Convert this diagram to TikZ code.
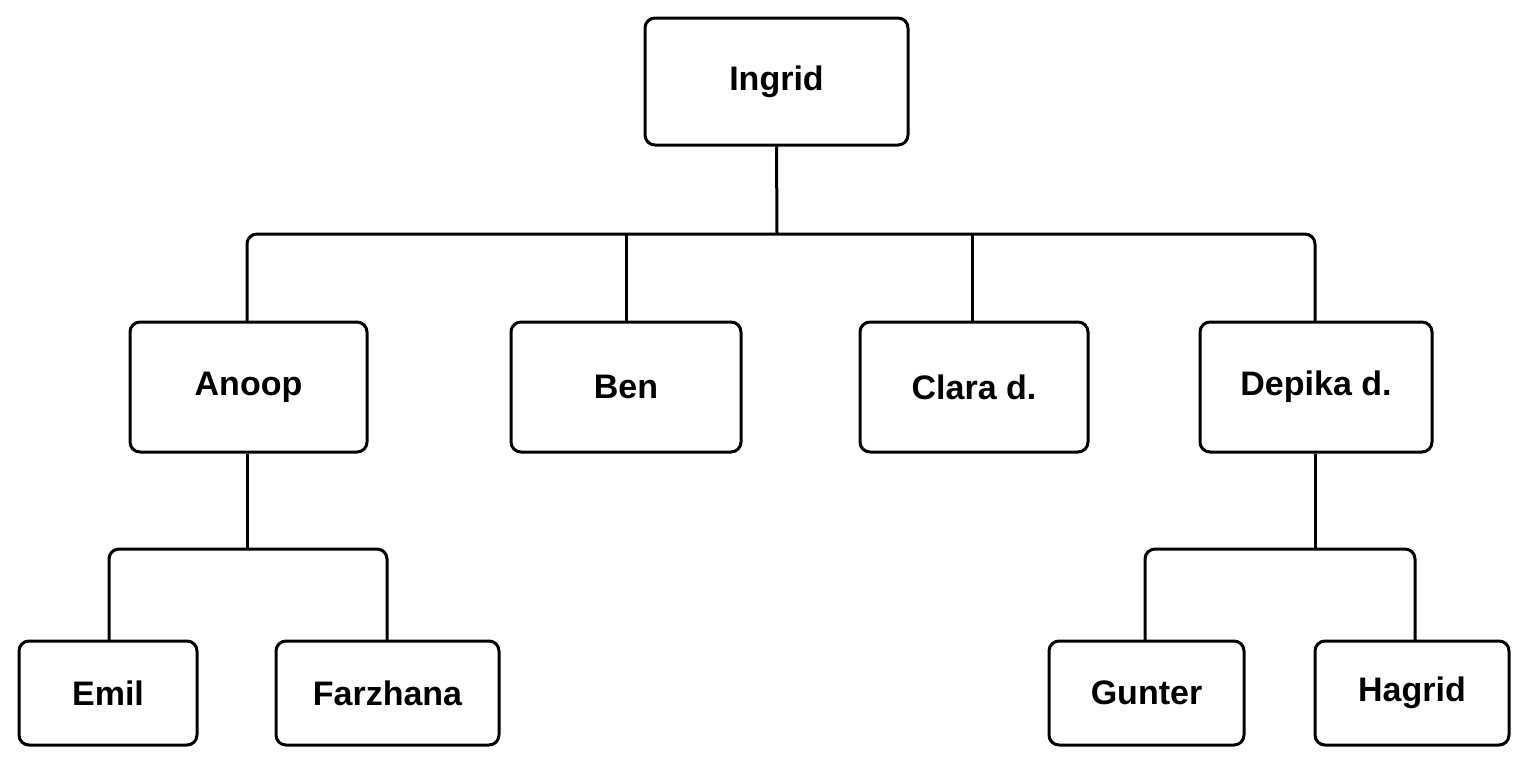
\documentclass[tikz,border=0pt]{standalone}
\usepackage{fontspec}
\setmainfont{Liberation Sans}
\begin{document}
\begin{tikzpicture}[x=1pt,y=-1pt,
  box/.style={draw,line width=3pt,rounded corners=10pt,font=\fontsize{34}{40}\selectfont\bfseries,inner sep=0pt},
  ln/.style={line width=3pt}]
\useasboundingbox (0,0) rectangle (1528,764);
\node[box,minimum width=263pt,minimum height=127pt] (i) at (776.5,81.5) {Ingrid};
\node[box,minimum width=237pt,minimum height=130pt] (a) at (248.5,387) {Anoop};
\node[box,minimum width=230pt,minimum height=130pt] (b) at (626,387) {Ben};
\node[box,minimum width=228pt,minimum height=130pt] (c) at (974,387) {Clara d.};
\node[box,minimum width=232pt,minimum height=130pt] (d) at (1316,387) {Depika d.};
\node[box,minimum width=178pt,minimum height=104pt] (e) at (108,693) {Emil};
\node[box,minimum width=223pt,minimum height=104pt] (f) at (387.5,693) {Farzhana};
\node[box,minimum width=195pt,minimum height=104pt] (g) at (1146.5,693) {Gunter};
\node[box,minimum width=194pt,minimum height=104pt] (h) at (1412,693) {Hagrid};
\coordinate (bus) at (777,234);
\coordinate (busa) at (247,549);
\coordinate (busd) at (1315,549);
\draw[ln] (i.south) -- (bus);
\draw[ln,rounded corners=10pt] (247,322) |- (bus) -| (1315,322);
\draw[ln] (b.north) -- (b.north |- bus);
\draw[ln] (972,322) -- (972,234);
\draw[ln] (a.south -| busa) -- (busa);
\draw[ln,rounded corners=10pt] (109,641) |- (busa) -| (387,641);
\draw[ln] (d.south -| busd) -- (busd);
\draw[ln,rounded corners=10pt] (1145,641) |- (busd) -| (1415,641);
\end{tikzpicture}
\end{document}
